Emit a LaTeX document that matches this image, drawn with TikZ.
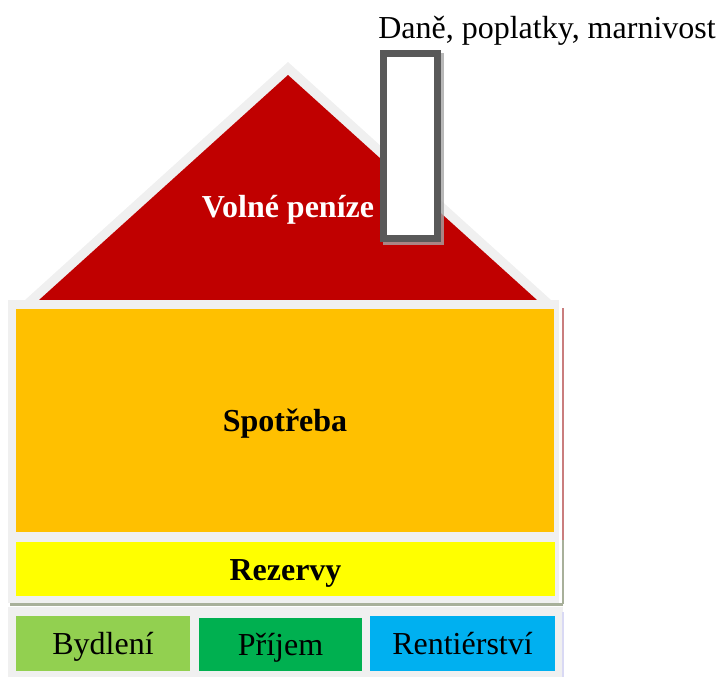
\documentclass[tikz,border=0pt]{standalone}
\usepackage{fontspec}
\setmainfont{Liberation Serif}
\definecolor{roofred}{HTML}{C00000}
\definecolor{spotor}{HTML}{FFC000}
\definecolor{rezy}{HTML}{FFFF00}
\definecolor{lgreen}{HTML}{92D050}
\definecolor{dgreen}{HTML}{00B050}
\definecolor{sky}{HTML}{00B0F0}
\definecolor{wallgrey}{HTML}{F0F0F0}
\definecolor{chim}{HTML}{595959}
\definecolor{shadowline}{HTML}{A8B09A}
\begin{document}
\begin{tikzpicture}[x=1pt,y=-1pt,
  box/.style={rectangle, draw=none, inner sep=0pt, text height=22pt, text depth=0pt, font=\fontsize{32}{36}\selectfont},
  lbl/.style={inner sep=0pt, font=\fontsize{32}{36}\selectfont}]
\useasboundingbox (0,0) rectangle (719,677);
% roof
\fill[wallgrey] (288,62) -- (551,300) -- (25,300) -- cycle;
\fill[roofred] (288,75) -- (537,300) -- (39,300) -- cycle;
% body
\fill[wallgrey] (8,300) rectangle (559,603);
\draw[shadowline, line width=2.5pt] (10,604.5) -- (563,604.5);
\draw[black!25!wallgrey!70!red, line width=1.5pt] (563,308) -- (563,540);
\draw[shadowline, line width=1.5pt] (563,540) -- (563,604);
\node[box, fill=spotor, minimum width=538, minimum height=223, font=\fontsize{32}{36}\selectfont\bfseries] (spot) at (285,420.5) {Spotřeba};
\node[box, fill=rezy, minimum width=539, minimum height=54, font=\fontsize{32}{36}\selectfont\bfseries] (rez) at (285.5,569) {Rezervy};
% bottom row
\fill[wallgrey] (8,607) rectangle (563,677);
\draw[black!30!blue!15!white, line width=1.5pt] (563,612) -- (563,677);
\node[box, fill=lgreen, minimum width=174, minimum height=55] (byd) at (103,643.5) {Bydlení};
\node[box, fill=dgreen, minimum width=163, minimum height=53] (pri) at (280.5,644.5) {Příjem};
\node[box, fill=sky, minimum width=185, minimum height=55] (ren) at (462.5,643.5) {Rentiérství};
% roof label
\node[lbl, text=white, text height=22pt, text depth=0pt, font=\fontsize{32}{36}\selectfont\bfseries] (volne) at (288,206) {Volné peníze};
% chimney
\fill[gray!70, opacity=0.8] (383,53) rectangle (444,245);
\draw[chim, line width=7pt, fill=white] (383.5,53.5) rectangle (437.5,238.5);
\coordinate (chimtop) at (410.5,50);
\node[lbl, anchor=base] (dane) at (547,38) {Daně, poplatky, marnivost};
\end{tikzpicture}
\end{document}
